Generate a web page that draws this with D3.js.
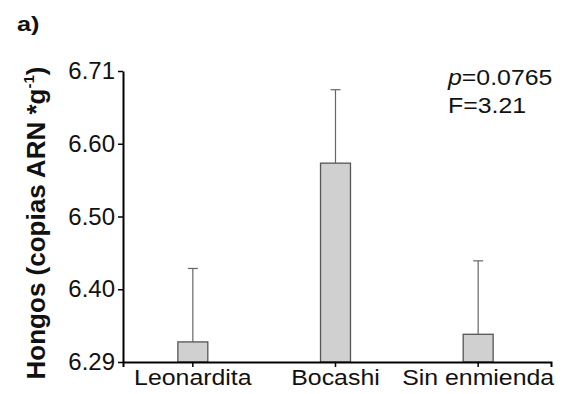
<!DOCTYPE html>
<html>
<head>
<meta charset="utf-8">
<script src="https://cdn.jsdelivr.net/npm/d3@7"></script>
<style>
  body { margin: 0; background: #fff; }
  text { font-family: "Liberation Sans", Arial, sans-serif; }
</style>
</head>
<body>
<div id="chart"></div>
<script>
// Chart data
var categories = ["Leonardita", "Bocashi", "Sin enmienda"];
var means = [6.319, 6.577, 6.330];
var errors = [0.106, 0.106, 0.106];
var tickLabels = ["6.29", "6.40", "6.50", "6.60", "6.71"];
var yMin = 6.29;
var yMax = 6.71;

// SVG area
var svgWidth = 565;
var svgHeight = 394;
var margin = { top: 71, right: 14, bottom: 32, left: 123 };

// the original figure's text is a bit wider than normal Arial
var stretch = 1.13;

var svg = d3.select("#chart")
    .append("svg")
    .attr("width", svgWidth)
    .attr("height", svgHeight);

// widen a text element horizontally
function widen(sel, k) {
    sel.each(function() {
        var len = this.getComputedTextLength();
        d3.select(this)
            .attr("textLength", len * k)
            .attr("lengthAdjust", "spacingAndGlyphs");
    });
}

// Scales
var x = d3.scaleBand()
    .domain(categories)
    .range([margin.left, svgWidth - margin.right])
    .paddingInner(0.79)
    .paddingOuter(0.395);

var y = d3.scaleLinear()
    .domain([yMin, yMax])
    .range([svgHeight - margin.bottom, margin.top]);

// evenly spaced ticks, labelled as in the original figure
var tickValues = tickLabels.map((d, i) => yMin + i * (yMax - yMin) / (tickLabels.length - 1));

// Bars
svg.selectAll(".bar")
    .data(categories)
    .enter().append("rect")
    .attr("class", "bar")
    .attr("x", d => x(d) - 1.5)
    .attr("width", x.bandwidth())
    .attr("y", (d, i) => y(means[i]))
    .attr("height", (d, i) => y(yMin) - y(means[i]))
    .attr("fill", "#d0d0d0")
    .attr("stroke", "#555")
    .attr("stroke-width", 1.3);

// Error bars (upper only)
var errGroup = svg.selectAll(".err")
    .data(categories)
    .enter().append("g")
    .attr("class", "err")
    .attr("stroke", "#666")
    .attr("stroke-width", 1.2);

errGroup.append("line")
    .attr("x1", d => x(d) + x.bandwidth() / 2 - 1.5)
    .attr("x2", d => x(d) + x.bandwidth() / 2 - 1.5)
    .attr("y1", (d, i) => y(means[i]))
    .attr("y2", (d, i) => y(means[i] + errors[i]));

errGroup.append("line")
    .attr("x1", d => x(d) + x.bandwidth() / 2 - 6.5)
    .attr("x2", d => x(d) + x.bandwidth() / 2 + 3.5)
    .attr("y1", (d, i) => y(means[i] + errors[i]))
    .attr("y2", (d, i) => y(means[i] + errors[i]));

// Y axis
var yAxis = svg.append("g")
    .attr("transform", `translate(${margin.left},0)`)
    .call(d3.axisLeft(y)
        .tickValues(tickValues)
        .tickFormat((d, i) => tickLabels[i])
        .tickSize(5)
        .tickSizeOuter(0)
        .tickPadding(3));

yAxis.select(".domain").attr("stroke-width", 2);
yAxis.selectAll(".tick line").attr("stroke-width", 1.5);
yAxis.selectAll("text")
    .attr("font-size", 24)
    .attr("fill", "#111")
    .style("font-family", "Liberation Sans, Arial, sans-serif");

// X axis
var xAxis = svg.append("g")
    .attr("transform", `translate(0,${svgHeight - margin.bottom})`)
    .call(d3.axisBottom(x)
        .tickSize(5)
        .tickSizeOuter(5)
        .tickPadding(4));

xAxis.select(".domain").attr("stroke-width", 2);
xAxis.selectAll(".tick").attr("transform", d => `translate(${x(d) + x.bandwidth() / 2 - 1.5},0)`);
xAxis.selectAll(".tick line").attr("stroke-width", 1.5);
xAxis.selectAll("text")
    .attr("font-size", 22)
    .attr("dy", "0.62em")
    .attr("fill", "#111")
    .style("font-family", "Liberation Sans, Arial, sans-serif")
    .call(widen, stretch);

// Y axis title
var yTitle = svg.append("text")
    .attr("transform", `translate(45,223) rotate(-90)`)
    .attr("text-anchor", "middle")
    .attr("font-size", 26)
    .attr("font-weight", "bold")
    .attr("fill", "#111");

yTitle.append("tspan").text("Hongos (copias ARN *g");
yTitle.append("tspan")
    .attr("font-size", 15)
    .attr("dy", -11)
    .text("-1");
yTitle.append("tspan")
    .attr("dy", 11)
    .text(")");

// Panel letter
svg.append("text")
    .attr("x", 17)
    .attr("y", 31)
    .attr("font-size", 21)
    .attr("font-weight", "bold")
    .attr("fill", "#111")
    .text("a)")
    .call(widen, 1.2);

// Statistics annotation
var stat = svg.append("text")
    .attr("x", 448)
    .attr("y", 85)
    .attr("font-size", 22)
    .attr("fill", "#111");
stat.append("tspan").attr("font-style", "italic").text("p");
stat.append("tspan").text("=0.0765");
stat.call(widen, stretch);

svg.append("text")
    .attr("x", 448)
    .attr("y", 112.5)
    .attr("font-size", 22)
    .attr("fill", "#111")
    .text("F=3.21")
    .call(widen, stretch);
</script>
</body>
</html>
